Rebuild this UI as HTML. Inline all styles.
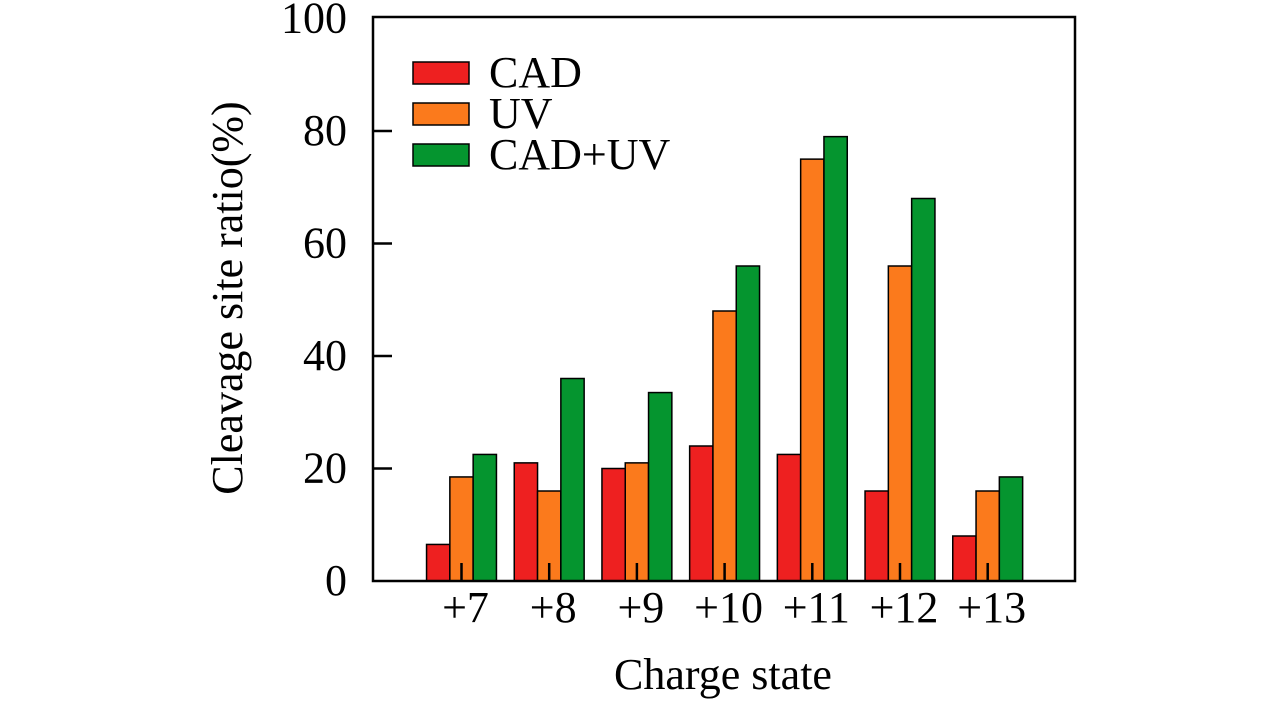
<!DOCTYPE html>
<html><head><meta charset="utf-8"><style>
body{margin:0;background:#fff;width:1283px;height:709px;overflow:hidden}
text{font-family:"Liberation Serif",serif;fill:#000}
</style></head><body>
<svg id="c" width="1283" height="709"></svg>
<script>
const categories=["+7","+8","+9","+10","+11","+12","+13"];
const cad=[6.5,21,20,24,22.5,16,8];
const uv=[18.5,16,21,48,75,56,16];
const cadUv=[22.5,36,33.5,56,79,68,18.5];
const yTicks=[0,20,40,60,80,100];
const seriesNames=["CAD","UV","CAD+UV"];
const colors=["#ee2020","#fb7a1c","#05952f"];
const NS="http://www.w3.org/2000/svg";
const svg=document.getElementById('c');
function el(t,a,p){const e=document.createElementNS(NS,t);for(const k in a)e.setAttribute(k,a[k]);(p||svg).appendChild(e);return e;}
const L=373,R=1075,T=17,B=581;
const y=v=>B-v*5.625;
const xc=i=>461.5+i*87.7;
const bw=23.3;
const series=[cad,uv,cadUv];
series.forEach((s,si)=>{s.forEach((v,i)=>{
 const r=el('rect',{x:xc(i)-bw*1.5+si*bw,y:y(v),width:bw,height:B-y(v),fill:colors[si],stroke:'#000','stroke-width':1.5});
 
 
});});
const frame=el('rect',{x:L,y:T,width:R-L,height:B-T,fill:'none',stroke:'#000','stroke-width':2.5});


yTicks.forEach(v=>{
 if(v>0&&v<100){
 const ln=el('line',{x1:L,x2:L+19,y1:y(v),y2:y(v),stroke:'#000','stroke-width':2.5});
 
 
 }
 const t=el('text',{x:L-26,y:y(v)+14,'text-anchor':'end','font-size':44});
 t.textContent=v;
 
 
});
categories.forEach((c,i)=>{
 const ln=el('line',{x1:xc(i),x2:xc(i),y1:B,y2:B-18,stroke:'#000','stroke-width':2.5});
 
 
 const t=el('text',{x:xc(i)+4,y:622,'text-anchor':'middle','font-size':44});
 t.textContent=c;
 
 
});
seriesNames.forEach((n,si)=>{
 const yy=62+si*41;
 const r=el('rect',{x:413,y:yy,width:56,height:22,fill:colors[si],stroke:'#000','stroke-width':1.5});
 
 
 const t=el('text',{x:489,y:yy+25,'font-size':44});
 t.textContent=n;
 
 
});
const xt=el('text',{x:723,y:689,'text-anchor':'middle','font-size':44});
xt.textContent='Charge state';


const yt=el('text',{x:0,y:0,'text-anchor':'middle','font-size':44,transform:'translate(242,298) rotate(-90)'});
yt.textContent='Cleavage site ratio(%)';


</script>
</body></html>
